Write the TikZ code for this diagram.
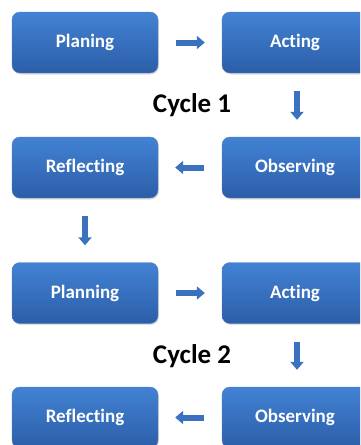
\documentclass[tikz,border=0pt]{standalone}
\usepackage{fontspec}
\setmainfont[Ligatures=NoCommon]{Carlito}
\usetikzlibrary{shadows,arrows.meta}
\definecolor{boxtop}{HTML}{4282D4}
\definecolor{boxbot}{HTML}{2C5EA8}
\definecolor{arrowblue}{HTML}{3A72C0}
\tikzset{
  stagebox/.style={rounded corners=8pt, minimum width=146pt, minimum height=61pt,
    top color=boxtop, bottom color=boxbot, draw=boxbot!80!white, line width=0.4pt,
    text=white, font=\fontsize{19}{22}\selectfont\bfseries,
    drop shadow={shadow xshift=1pt, shadow yshift=-1.5pt, opacity=0.25}},
  blockarrow/.style={draw=arrowblue, line width=6pt,
    -{Triangle[width=13pt,length=8pt]}, shorten <=18pt, shorten >=17pt},
  cyclelabel/.style={font=\fontsize{27}{30}\selectfont\bfseries, text=black}
}
\begin{document}
\begin{tikzpicture}[x=1pt,y=-1pt]
\useasboundingbox (0,0) rectangle (360,445);
\fill[white] (0,0) rectangle (360,445);
\begin{scope}
\clip (0,0) rectangle (360,445);
\node[stagebox] (plan1) at (85,42.5) {Planing};
\node[stagebox] (act1) at (295,42.5) {Acting};
\node[stagebox] (refl1) at (85,167.5) {Reflecting};
\node[stagebox] (obs1) at (295,167.5) {Observing};
\node[stagebox] (plan2) at (85,293) {Planning};
\node[stagebox] (act2) at (295,293) {Acting};
\node[stagebox] (refl2) at (85,417.5) {Reflecting};
\node[stagebox] (obs2) at (295,417.5) {Observing};
\end{scope}
\node[cyclelabel] (c1) at (192,105) {Cycle 1};
\node[cyclelabel] (c2) at (192,356) {Cycle 2};
\draw[blockarrow] (plan1) -- (act1);
\draw[blockarrow] ([xshift=2pt]act1.south) -- ([xshift=2pt]obs1.north);
\draw[blockarrow] (obs1) -- (refl1);
\draw[blockarrow] (refl1) -- (plan2);
\draw[blockarrow] (plan2) -- (act2);
\draw[blockarrow] ([xshift=2pt]act2.south) -- ([xshift=2pt]obs2.north);
\draw[blockarrow] (obs2) -- (refl2);
\end{tikzpicture}
\end{document}
